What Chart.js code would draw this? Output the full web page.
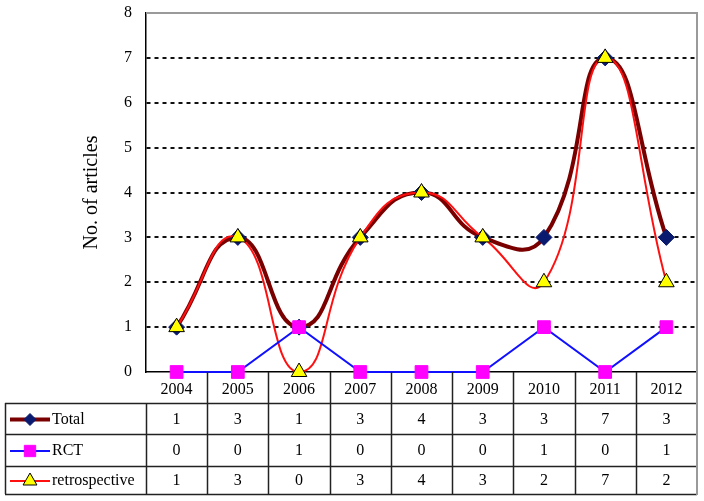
<!DOCTYPE html>
<html>
<head>
<meta charset="utf-8">
<script src="https://cdn.jsdelivr.net/npm/chart.js@4/dist/chart.umd.min.js"></script>
<style>
  html, body { margin: 0; padding: 0; background: #fff; overflow: hidden; }
  #wrap { width: 707px; height: 501px; position: relative; }
</style>
</head>
<body>
<div id="wrap"><canvas id="myChart"></canvas></div>
<script>
const years = ['2004', '2005', '2006', '2007', '2008', '2009', '2010', '2011', '2012'];
const total = [1, 3, 1, 3, 4, 3, 3, 7, 3];
const rct = [0, 0, 1, 0, 0, 0, 1, 0, 1];
const retrospective = [1, 3, 0, 3, 4, 3, 2, 7, 2];
const yTicks = [0, 1, 2, 3, 4, 5, 6, 7, 8];
const rowNames = ['Total', 'RCT', 'retrospective'];

const serif = '"Liberation Serif", "Times New Roman", serif';

/* data table under the plot, lined up with the x scale */
const tablePlugin = {
    id: 'dataTable',
    afterDraw(chart) {
        const ctx = chart.ctx;
        const x = chart.scales.x;
        const a = chart.chartArea;
        const step = x.getPixelForValue(1) - x.getPixelForValue(0);
        const first = x.getPixelForValue(0) - step / 2;
        const rows = [403, 434, 466, 494];
        const tableLeft = 5;
        ctx.save();
        ctx.strokeStyle = '#222';
        ctx.lineWidth = 1.5;
        // header column separators
        for (let i = 1; i < years.length; i++) {
            const px = Math.round(first + i * step) + 0.5;
            ctx.beginPath();
            ctx.moveTo(px, a.bottom);
            ctx.lineTo(px, rows[3]);
            ctx.stroke();
        }
        // row lines
        rows.forEach(function (ry) {
            ctx.beginPath();
            ctx.moveTo(tableLeft, ry + 0.5);
            ctx.lineTo(a.right, ry + 0.5);
            ctx.stroke();
        });
        // left column
        [tableLeft, a.left].forEach(function (px) {
            ctx.beginPath();
            ctx.moveTo(px + 0.5, rows[0]);
            ctx.lineTo(px + 0.5, rows[3]);
            ctx.stroke();
        });
        // plot border top / right (grey)
        ctx.strokeStyle = '#9a9a9a';
        ctx.lineWidth = 2;
        ctx.beginPath();
        ctx.moveTo(a.left, a.top);
        ctx.lineTo(a.right, a.top);
        ctx.lineTo(a.right, rows[3] + 1);
        ctx.stroke();

        // values
        const series = [total, rct, retrospective];
        ctx.fillStyle = '#000';
        ctx.font = '16px ' + serif;
        ctx.textBaseline = 'middle';
        ctx.textAlign = 'center';
        series.forEach(function (vals, r) {
            const cy = (rows[r] + rows[r + 1]) / 2 + 1;
            vals.forEach(function (v, i) {
                ctx.fillText(String(v), x.getPixelForValue(i), cy);
            });
        });

        // legend keys
        const keys = chart.data.datasets;
        ctx.textAlign = 'left';
        rowNames.forEach(function (name, r) {
            const ds = keys[r];
            const cy = (rows[r] + rows[r + 1]) / 2 + 1;
            ctx.strokeStyle = ds.borderColor;
            ctx.lineWidth = ds.borderWidth;
            ctx.beginPath();
            ctx.moveTo(10, cy);
            ctx.lineTo(50, cy);
            ctx.stroke();
            ctx.fillStyle = ds.pointBackgroundColor;
            ctx.strokeStyle = ds.pointBorderColor;
            ctx.lineWidth = 1;
            Chart.helpers.drawPoint(ctx, {
                pointStyle: ds.pointStyle,
                radius: ds.legendRadius,
                rotation: 0,
                borderWidth: 1
            }, 30, cy);
            ctx.fillStyle = '#000';
            ctx.fillText(name, 52, cy);
        });
        ctx.restore();
    }
};

const ctx1 = document.getElementById('myChart').getContext('2d');
const myChart = new Chart(ctx1, {
    type: 'line',
    data: {
        labels: years,
        datasets: [
            {
                label: 'Total',
                data: total,
                borderColor: '#7a0000',
                borderWidth: 4,
                tension: 0.5,
                pointStyle: 'rectRot',
                pointRadius: 8,
                legendRadius: 6,
                pointBackgroundColor: '#0a1a6e',
                pointBorderColor: '#0a1a6e',
                pointBorderWidth: 1,
                clip: false,
                order: 3
            },
            {
                label: 'RCT',
                data: rct,
                borderColor: '#1010ff',
                borderWidth: 2,
                tension: 0,
                pointStyle: 'rect',
                pointRadius: 9,
                legendRadius: 8,
                pointBackgroundColor: '#ff00ff',
                pointBorderColor: '#ff00ff',
                pointBorderWidth: 1,
                clip: false,
                order: 1
            },
            {
                label: 'retrospective',
                data: retrospective,
                borderColor: '#ff1010',
                borderWidth: 2,
                tension: 0.5,
                pointStyle: 'triangle',
                pointRadius: 9,
                legendRadius: 8,
                pointBackgroundColor: '#ffff00',
                pointBorderColor: '#000000',
                pointBorderWidth: 1,
                clip: false,
                order: 2
            }
        ]
    },
    options: {
        responsive: true,
        maintainAspectRatio: false,
        animation: false,
        layout: {
            padding: { top: 13, right: 0, left: 0, bottom: 0 }
        },
        plugins: {
            legend: { display: false },
            tooltip: { enabled: false }
        },
        scales: {
            x: {
                offset: true,
                grid: { display: true, drawOnChartArea: false, drawTicks: false },
                border: { color: '#000', width: 1.5 },
                ticks: {
                    color: '#000',
                    padding: 8,
                    font: { family: serif, size: 16 }
                },
                afterFit(scale) {
                    scale.height = 129;
                    scale.paddingLeft = 0;
                    scale.paddingRight = 0;
                }
            },
            y: {
                min: 0,
                max: 8,
                afterBuildTicks(scale) {
                    scale.ticks = yTicks.map(function (v) { return { value: v }; });
                },
                grid: {
                    drawTicks: false,
                    lineWidth: 2,
                    color(c) {
                        const v = c.tick ? c.tick.value : 0;
                        return (v === 0 || v === 8) ? 'rgba(0,0,0,0)' : '#111';
                    }
                },
                border: { color: '#000', width: 1.5, dash: [4, 4] },
                ticks: {
                    color: '#000',
                    padding: 14,
                    font: { family: serif, size: 16 }
                },
                title: {
                    display: true,
                    text: 'No. of articles',
                    color: '#000',
                    padding: { top: 80, bottom: 0 },
                    font: { family: serif, size: 20 }
                },
                afterFit(scale) {
                    scale.width = 146;
                    scale.paddingTop = 0;
                    scale.paddingBottom = 0;
                }
            }
        }
    },
    plugins: [tablePlugin]
});
</script>
</body>
</html>
